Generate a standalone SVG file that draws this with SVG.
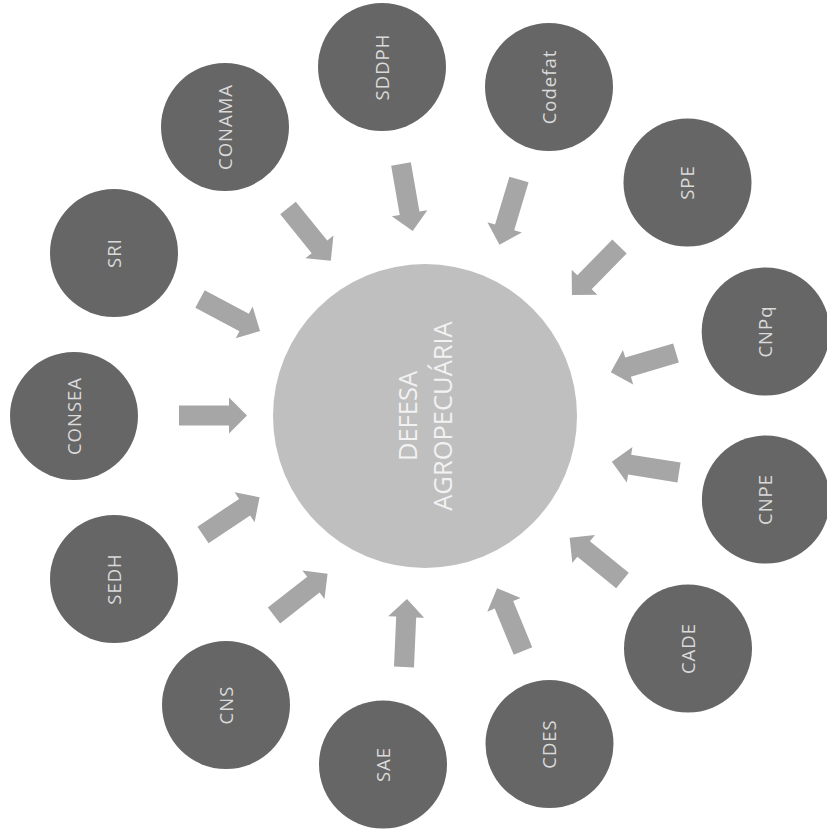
<svg xmlns="http://www.w3.org/2000/svg" xmlns:xlink="http://www.w3.org/1999/xlink" width="827" height="838" viewBox="0 0 827 838">
<style>
.node{fill:#666666}
.lbl{fill:#dadada;font-family:"Open Sans","Noto Sans",sans-serif;font-size:18.5px;letter-spacing:1px;text-anchor:middle}
.center{fill:#bfbfbf}
.clbl{fill:#f2f2f2;font-family:"Open Sans","Noto Sans",sans-serif;font-size:25.5px;text-anchor:middle}
.arr{fill:#a6a6a6}
</style>
<defs>
<path id="arr" class="arr" d="M0,-10 L50,-10 L50,-18 L68,0 L50,18 L50,10 L0,10 Z"/>
</defs>
<rect width="827" height="838" fill="#ffffff"/>
<g id="connectors">
<use xlink:href="#arr" href="#arr" transform="translate(401 164) rotate(80.1)"/>
<use xlink:href="#arr" href="#arr" transform="translate(519 179.5) rotate(106.7)"/>
<use xlink:href="#arr" href="#arr" transform="translate(619.5 246.5) rotate(134.4)"/>
<use xlink:href="#arr" href="#arr" transform="translate(676 353) rotate(163.5)"/>
<use xlink:href="#arr" href="#arr" transform="translate(679 472.5) rotate(189)"/>
<use xlink:href="#arr" href="#arr" transform="translate(622.5 580.5) rotate(219)"/>
<use xlink:href="#arr" href="#arr" transform="translate(523 651) rotate(247.6)"/>
<use xlink:href="#arr" href="#arr" transform="translate(404 667) rotate(272.5)"/>
<use xlink:href="#arr" href="#arr" transform="translate(274 615.5) rotate(322)"/>
<use xlink:href="#arr" href="#arr" transform="translate(203 535) rotate(326.3)"/>
<use xlink:href="#arr" href="#arr" transform="translate(179 415.5) rotate(0)"/>
<use xlink:href="#arr" href="#arr" transform="translate(200 299) rotate(28)"/>
<use xlink:href="#arr" href="#arr" transform="translate(288 208) rotate(51)"/>
</g>
<g id="defesa">
<circle class="center" cx="425" cy="416" r="152"/>
<text class="clbl" x="425" y="408" transform="rotate(-90 425 416)">DEFESA</text>
<text class="clbl" x="425" y="443" transform="rotate(-90 425 416)">AGROPECUÁRIA</text>
</g>
<g id="sddph"><circle class="node" cx="382" cy="67" r="64"/><text class="lbl" x="382" y="73.5" transform="rotate(-90 382 67)">SDDPH</text></g>
<g id="codefat"><circle class="node" cx="549" cy="87" r="64"/><text class="lbl" x="549" y="93.5" transform="rotate(-90 549 87)">Codefat</text></g>
<g id="spe"><circle class="node" cx="687.5" cy="182.5" r="64"/><text class="lbl" x="687.5" y="189" transform="rotate(-90 687.5 182.5)">SPE</text></g>
<g id="cnpq"><circle class="node" cx="765.7" cy="331.5" r="64"/><text class="lbl" x="765.7" y="338" transform="rotate(-90 765.7 331.5)">CNPq</text></g>
<g id="cnpe"><circle class="node" cx="765.9" cy="499.5" r="64"/><text class="lbl" x="765.9" y="506" transform="rotate(-90 765.9 499.5)">CNPE</text></g>
<g id="cade"><circle class="node" cx="688" cy="648.5" r="64"/><text class="lbl" x="688" y="655" transform="rotate(-90 688 648.5)">CADE</text></g>
<g id="cdes"><circle class="node" cx="549.5" cy="744" r="64"/><text class="lbl" x="549.5" y="750.5" transform="rotate(-90 549.5 744)">CDES</text></g>
<g id="sae"><circle class="node" cx="383" cy="764.5" r="64"/><text class="lbl" x="383" y="771" transform="rotate(-90 383 764.5)">SAE</text></g>
<g id="cns"><circle class="node" cx="226" cy="705" r="64"/><text class="lbl" x="226" y="711.5" transform="rotate(-90 226 705)">CNS</text></g>
<g id="sedh"><circle class="node" cx="114" cy="579" r="64"/><text class="lbl" x="114" y="585.5" transform="rotate(-90 114 579)">SEDH</text></g>
<g id="consea"><circle class="node" cx="74" cy="416" r="64"/><text class="lbl" x="74" y="422.5" transform="rotate(-90 74 416)">CONSEA</text></g>
<g id="sri"><circle class="node" cx="114" cy="253" r="64"/><text class="lbl" x="114" y="259.5" transform="rotate(-90 114 253)">SRI</text></g>
<g id="conama"><circle class="node" cx="225" cy="127" r="64"/><text class="lbl" x="225" y="133.5" transform="rotate(-90 225 127)">CONAMA</text></g>
</svg>
